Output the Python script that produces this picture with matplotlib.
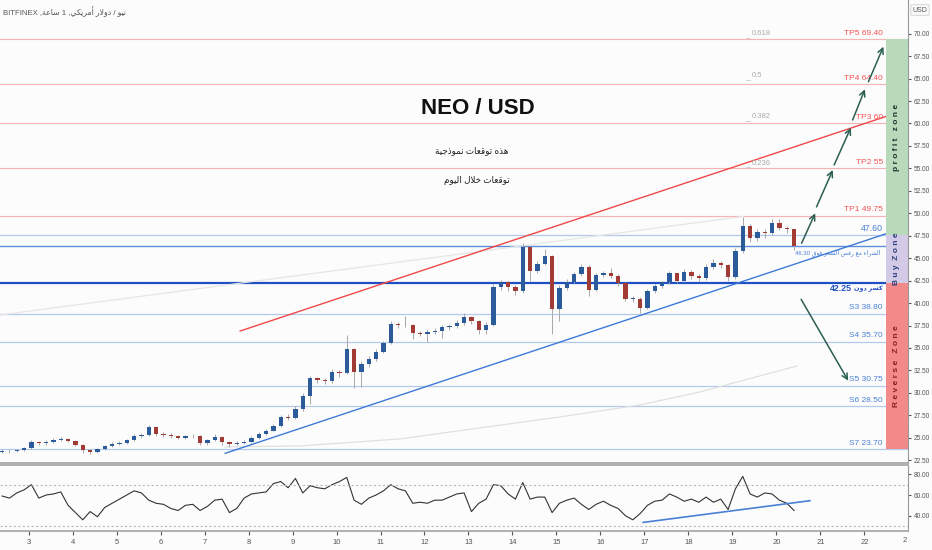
import re
import numpy as np
import matplotlib
matplotlib.use("Agg")
import matplotlib.pyplot as plt

plt.rcParams['font.family'] = ['Liberation Sans', 'DejaVu Sans']

# 4h candles, time in days of the month
t0 = 2.4
closes = [23.50, 23.55, 23.60, 23.85, 24.50, 24.40, 24.55, 24.75, 24.90, 24.65,
          24.20, 23.60, 23.45, 23.70, 24.10, 24.35, 24.40, 24.70, 25.25, 25.30,
          26.20, 25.40, 25.30, 25.20, 25.00, 25.15, 25.20, 24.40, 24.70, 25.10,
          24.50, 24.30, 24.45, 24.55, 25.00, 25.45, 25.80, 26.30, 27.35, 27.20,
          28.20, 29.60, 31.60, 31.40, 31.30, 32.30, 32.20, 34.90, 32.30, 33.20,
          33.80, 34.60, 35.50, 37.70, 37.60, 37.55, 36.70, 36.60, 36.80, 36.90,
          37.30, 37.40, 37.80, 38.40, 38.00, 37.00, 37.60, 41.80, 42.30, 41.80,
          41.30, 46.20, 43.60, 44.40, 45.20, 39.30, 41.70, 42.40, 43.20, 44.00,
          41.50, 43.10, 43.30, 43.00, 42.20, 40.50, 40.50, 39.50, 41.30, 41.90,
          42.30, 43.30, 42.50, 43.50, 43.00, 42.80, 44.00, 44.50, 44.20, 42.90,
          45.80, 48.60, 47.20, 47.90, 47.80, 48.90, 48.40, 48.20, 46.40]
highs = [23.70, 23.70, 23.80, 24.00, 24.75, 24.65, 24.70, 24.95, 25.05, 25.00,
         24.75, 24.30, 23.70, 23.85, 24.25, 24.50, 24.60, 24.85, 25.45, 25.55,
         26.45, 26.30, 25.60, 25.55, 25.35, 25.30, 25.45, 25.30, 24.85, 25.40,
         25.20, 24.60, 24.60, 24.75, 25.20, 25.65, 26.00, 26.55, 27.55, 27.60,
         28.50, 30.00, 31.90, 31.75, 31.60, 32.70, 32.50, 36.40, 35.00, 33.50,
         34.10, 34.90, 35.80, 38.00, 37.90, 38.60, 37.70, 36.90, 37.10, 37.20,
         37.60, 37.70, 38.10, 38.90, 38.60, 38.10, 37.90, 42.10, 42.60, 42.50,
         42.00, 46.70, 46.40, 44.70, 46.00, 45.40, 42.00, 42.70, 43.50, 44.30,
         44.20, 43.40, 43.60, 43.90, 43.20, 42.40, 40.80, 40.70, 41.60, 42.10,
         42.50, 43.60, 43.40, 43.80, 43.70, 43.20, 44.30, 44.90, 44.70, 44.30,
         46.10, 49.60, 48.80, 48.30, 48.20, 49.40, 49.40, 48.60, 48.30]
lows = [23.30, 23.35, 23.45, 23.50, 23.80, 24.20, 24.25, 24.45, 24.60, 24.50,
        24.05, 23.30, 23.20, 23.35, 23.60, 24.00, 24.20, 24.30, 24.60, 25.00,
        25.20, 25.20, 25.10, 25.00, 24.85, 24.90, 25.00, 24.20, 24.25, 24.60,
        24.20, 24.00, 24.15, 24.35, 24.45, 24.90, 25.30, 25.70, 26.20, 26.95,
        27.05, 28.00, 28.80, 31.10, 31.00, 31.15, 31.80, 32.10, 30.50, 30.60,
        32.90, 33.50, 34.40, 35.40, 37.20, 37.30, 36.00, 36.30, 35.70, 36.50,
        36.10, 37.00, 37.20, 37.60, 37.70, 36.60, 36.50, 37.40, 41.50, 41.30,
        40.90, 41.10, 42.50, 43.30, 44.20, 36.60, 38.00, 41.40, 42.20, 43.00,
        40.80, 41.30, 42.90, 42.80, 41.90, 40.20, 40.10, 38.90, 39.30, 41.10,
        41.70, 42.10, 42.20, 42.30, 42.70, 42.50, 42.60, 43.80, 43.90, 42.50,
        42.70, 45.60, 46.80, 46.90, 47.30, 47.60, 48.10, 47.80, 45.90]
first_open = 23.45

rsi = [59, 57, 62, 65, 70, 57, 60, 61, 63, 50, 43, 36, 44, 39, 48, 52, 56, 60,
       64, 62, 55, 52, 51, 47, 45, 50, 51, 45, 49, 55, 56, 43, 47, 57, 61, 62,
       63, 71, 73, 67, 76, 62, 69, 67, 66, 70, 73, 77, 55, 51, 57, 60, 64, 70,
       66, 64, 52, 53, 52, 55, 55, 58, 61, 62, 44, 52, 56, 70, 69, 61, 56, 72,
       56, 58, 58, 43, 52, 55, 57, 51, 46, 51, 54, 50, 47, 40, 36, 42, 50, 54,
       55, 61, 58, 54, 56, 53, 58, 53, 56, 46, 66, 78, 61, 58, 62, 61, 55, 52,
       45]

tp_levels = [69.40, 64.40, 60.00, 55.00, 49.75]
tp_labels = ['TP5 69.40', 'TP4 64.40', 'TP3 60', 'TP2 55', 'TP1 49.75']
s_levels = [38.80, 35.70, 30.75, 28.50, 23.70]
s_labels = ['S3 38.80', 'S4 35.70', 'S5 30.75', 'S6 28.50', 'S7 23.70']
buy_top = 47.60
buy_line = 46.30
break_level = 42.25
fib_names = ['0.618', '0.5', '0.382', '0.236']
fib_prices = [69.6, 64.9, 60.4, 55.2]

red_line = ([7.81, 22.99], [36.89, 61.60])
blue_line = ([7.47, 22.99], [23.27, 48.53])
grey_line = ([2.35, 19.24], [38.67, 49.64])
curve_days = [7.47, 9.17, 11.44, 13.26, 15.08, 16.90, 18.26, 20.47]
curve_prices = [23.98, 24.09, 24.87, 26.10, 27.32, 28.66, 30.10, 33.00]
rsi_line = ([16.97, 20.76], [33.5, 54.5])

arrows = [((20.57, 46.66), (20.88, 50.00)),
          ((20.91, 50.71), (21.28, 54.82)),
          ((21.31, 55.38), (21.69, 59.53)),
          ((21.73, 60.39), (22.01, 63.81)),
          ((22.09, 64.65), (22.43, 68.55)),
          ((20.56, 40.42), (21.63, 31.36))]

AR_FORMS = {
    '\u0621': ('\ufe80',),
    '\u0623': ('\ufe83', '\ufe84'),
    '\u0627': ('\ufe8d', '\ufe8e'),
    '\u0629': ('\ufe93', '\ufe94'),
    '\u062a': ('\ufe95', '\ufe96', '\ufe97', '\ufe98'),
    '\u062c': ('\ufe9d', '\ufe9e', '\ufe9f', '\ufea0'),
    '\u062e': ('\ufea5', '\ufea6', '\ufea7', '\ufea8'),
    '\u062f': ('\ufea9', '\ufeaa'),
    '\u0630': ('\ufeab', '\ufeac'),
    '\u0631': ('\ufead', '\ufeae'),
    '\u0633': ('\ufeb1', '\ufeb2', '\ufeb3', '\ufeb4'),
    '\u0634': ('\ufeb5', '\ufeb6', '\ufeb7', '\ufeb8'),
    '\u0636': ('\ufebd', '\ufebe', '\ufebf', '\ufec0'),
    '\u0639': ('\ufec9', '\ufeca', '\ufecb', '\ufecc'),
    '\u0641': ('\ufed1', '\ufed2', '\ufed3', '\ufed4'),
    '\u0642': ('\ufed5', '\ufed6', '\ufed7', '\ufed8'),
    '\u0643': ('\ufed9', '\ufeda', '\ufedb', '\ufedc'),
    '\u0644': ('\ufedd', '\ufede', '\ufedf', '\ufee0'),
    '\u0645': ('\ufee1', '\ufee2', '\ufee3', '\ufee4'),
    '\u0646': ('\ufee5', '\ufee6', '\ufee7', '\ufee8'),
    '\u0647': ('\ufee9', '\ufeea', '\ufeeb', '\ufeec'),
    '\u0648': ('\ufeed', '\ufeee'),
    '\u064a': ('\ufef1', '\ufef2', '\ufef3', '\ufef4'),
}


def ar(text):
    # very small arabic shaper + rtl reorder (matplotlib has no bidi)
    glyphs = []
    i = 0
    while i < len(text):
        if text[i] == '\u0644' and i + 1 < len(text) and text[i + 1] in '\u0627\u0623':
            glyphs.append(('LA', text[i + 1]))
            i += 2
        else:
            glyphs.append((text[i], None))
            i += 1

    def to_next(g):
        f = AR_FORMS.get(g[0])
        return g[0] != 'LA' and f is not None and len(f) == 4

    def to_prev(g):
        f = AR_FORMS.get(g[0])
        return g[0] == 'LA' or (f is not None and len(f) >= 2)

    out = []
    for k, g in enumerate(glyphs):
        p = k > 0 and to_next(glyphs[k - 1]) and to_prev(g)
        q = k + 1 < len(glyphs) and to_next(g) and to_prev(glyphs[k + 1])
        if g[0] == 'LA':
            iso, fin = ('\ufefb', '\ufefc') if g[1] == '\u0627' else ('\ufef7', '\ufef8')
            out.append(fin if p else iso)
            continue
        f = AR_FORMS.get(g[0])
        if f is None:
            out.append(g[0])
        elif len(f) == 1:
            out.append(f[0])
        elif len(f) == 2:
            out.append(f[1] if p else f[0])
        else:
            out.append(f[3] if p and q else f[1] if p else f[2] if q else f[0])
    vis = ''.join(out)[::-1]
    return re.sub(r'[A-Za-z0-9.]+', lambda m: m.group(0)[::-1], vis)


n = len(closes)
t = t0 + np.arange(n) / 6.0
opens = [first_open] + closes[:-1]

fig = plt.figure(figsize=(9.32, 5.5), dpi=100)
fig.patch.set_facecolor('#fcfcfc')
ax = fig.add_axes([0, 87 / 550, 908 / 932, 463 / 550])
axr = fig.add_axes([0, 19 / 550, 908 / 932, 66 / 550])
for a in (ax, axr):
    a.set_facecolor('#fcfcfc')
    a.set_xlim(2.352, 22.989)
    for s in ('top', 'left'):
        a.spines[s].set_visible(False)
    a.spines['right'].set_color('#999999')
    a.spines['bottom'].set_color('#aaaaaa')
    a.spines['bottom'].set_linewidth(1.3)
axr.spines['top'].set_visible(True)
axr.spines['top'].set_color('#aaaaaa')
axr.spines['top'].set_linewidth(1.3)

ax.set_ylim(22.19, 73.75)

# levels
for lv in tp_levels:
    ax.axhline(lv, color='#f6b3b3', lw=0.8, zorder=1)
for lv in s_levels + [buy_top]:
    ax.axhline(lv, color='#b3c9ec', lw=0.9, zorder=1)
ax.axhline(buy_line, color='#5b8fdb', lw=1.0, zorder=1)
ax.axhline(break_level, color='#1f4fc4', lw=1.6, zorder=1)

# trend lines
ax.plot(*grey_line, color='#e6e6e6', lw=0.9, zorder=1)
ax.plot(curve_days, curve_prices, color='#e0e0e0', lw=0.9, zorder=1)
ax.plot(*red_line, color='#f04848', lw=1.0, zorder=2)
ax.plot(*blue_line, color='#3d7ad8', lw=1.0, zorder=2)

# candles
up = np.array(closes) >= np.array(opens)
ax.vlines(t, lows, highs, color='#a8a8a8', lw=0.7, zorder=3)
body_lo = np.minimum(opens, closes)
body_h = np.maximum(np.abs(np.array(closes) - np.array(opens)), 0.06)
ax.bar(t, body_h, bottom=body_lo, width=0.1,
       color=np.where(up, '#2c5b9c', '#a23b36'), zorder=4)

# zones
zx = [22.48, 22.99]
ax.fill_between(zx, buy_top, tp_levels[0], color='#b8dabb', zorder=2, lw=0)
ax.fill_between(zx, break_level, buy_top, color='#d2cae6', zorder=2, lw=0)
ax.fill_between(zx, s_levels[-1], break_level, color='#f28a8a', zorder=2, lw=0)
zc = sum(zx) / 2
ax.text(zc, (buy_top + tp_levels[0]) / 2, 'p r o f i t   z o n e', rotation=90,
        ha='center', va='center', fontsize=6, color='#22312d', fontweight='bold')
ax.text(zc, (break_level + buy_top) / 2, 'B u y  Z o n e', rotation=90,
        ha='center', va='center', fontsize=6, color='#2b3f7a', fontweight='bold')
ax.text(zc, (s_levels[-1] + break_level) / 2, 'R e v e r s e   Z o n e', rotation=90,
        ha='center', va='center', fontsize=6, color='#8b1f1f', fontweight='bold')

# arrows
for (a0, a1) in arrows:
    ax.annotate('', xy=a1, xytext=a0,
                arrowprops=dict(arrowstyle='->', color='#2c5e52', lw=1.1,
                                mutation_scale=10, shrinkA=0, shrinkB=0), zorder=5)

# labels
lx = 22.42
for lv, lab in zip(tp_levels, tp_labels):
    ax.text(lx, lv + 0.25, lab, ha='right', va='bottom', fontsize=6, color='#f25454')
for lv, lab in zip(s_levels, s_labels):
    ax.text(lx, lv + 0.3, lab, ha='right', va='bottom', fontsize=6, color='#4a80d6')
ax.text(lx, buy_top + 0.25, '47.60', ha='right', va='bottom', fontsize=6.3, color='#4a80d6')
ax.text(22.36, buy_line - 0.25, ar('الشراء مع رفض السعر فوق 46.30'), ha='right', va='top',
        fontsize=4.3, color='#4a80d6')
brk = ax.text(lx, break_level - 0.25, ar('كسر دون'), ha='right', va='top',
              fontsize=4.6, color='#1f4fc4', fontweight='bold')
ax.annotate('42.25', xy=(0, 0.5), xycoords=brk, xytext=(-1.5, 0),
            textcoords='offset points', ha='right', va='center',
            fontsize=6.3, color='#1f4fc4', fontweight='bold')

for name, pr in zip(fib_names, fib_prices):
    ax.text(19.44, pr, name, ha='left', va='bottom', fontsize=5.5, color='#aaaaaa')
    ax.plot([19.30, 19.40], [pr - 0.1, pr - 0.1], color='#cccccc', lw=0.6)

ax.text(13.22, 61.7, 'NEO / USD', ha='center', va='center', fontsize=16,
        fontweight='bold', color='#111111',
        family=['DejaVu Sans Condensed', 'Liberation Sans', 'DejaVu Sans'])
ax.text(13.08, 56.95, ar('هذه توقعات نموذجية'), ha='center', va='center',
        fontsize=6.3, color='#222222')
ax.text(13.2, 53.7, ar('توقعات خلال اليوم'), ha='center', va='center',
        fontsize=6.3, color='#222222')

fig.text(3 / 932, 1 - 12 / 550, ar('نيو / دولار أمريكي, 1 ساعة, BITFINEX'),
         fontsize=5.6, color='#555555', va='center')
fig.text(920 / 932, 1 - 10 / 550, 'USD', fontsize=5, color='#555555', ha='center',
         va='center', bbox=dict(boxstyle='round,pad=0.25', fc='#fcfcfc', ec='#cccccc', lw=0.6))

ax.yaxis.tick_right()
ax.set_yticks(np.arange(22.5, 70.01, 2.5))
ax.set_yticklabels(['%.2f' % v for v in np.arange(22.5, 70.01, 2.5)])
ax.tick_params(axis='y', labelsize=4.7, colors='#555555', length=2.5, pad=1.5)
ax.set_xticks([])

# rsi panel
axr.set_ylim(25.2, 89.0)
axr.plot(t, rsi, color='#333333', lw=0.8)
axr.axhline(70, color='#bbbbbb', lw=0.8, ls=(0, (2, 2)))
axr.axhline(30, color='#bbbbbb', lw=0.8, ls=(0, (2, 2)))
axr.plot(*rsi_line, color='#4a80d6', lw=1.2)
axr.yaxis.tick_right()
axr.set_yticks([40, 60, 80])
axr.set_yticklabels(['40.00', '60.00', '80.00'])
axr.tick_params(axis='y', labelsize=4.7, colors='#555555', length=2.5, pad=1.5)
days = list(range(3, 23))
axr.set_xticks(days)
axr.set_xticklabels([str(d) for d in days])
axr.tick_params(axis='x', labelsize=5.5, colors='#555555', length=3, pad=3)
fig.text(905 / 932, 1 - 541 / 550, '2', fontsize=5.5, color='#555555', ha='center', va='center')

fig.savefig('out.png', dpi=100, facecolor=fig.get_facecolor())
